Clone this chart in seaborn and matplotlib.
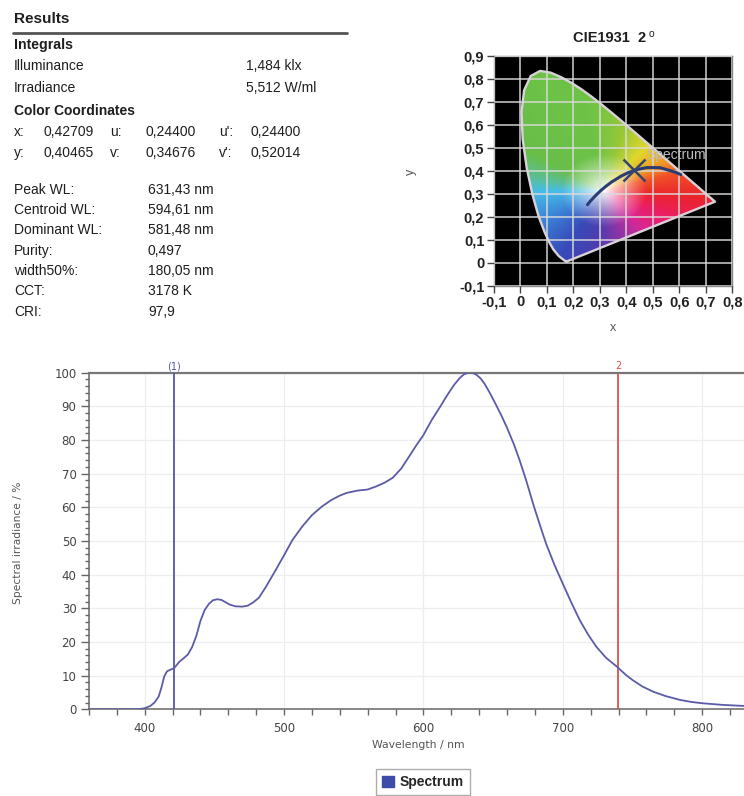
import numpy as np
import pandas as pd
import matplotlib
matplotlib.use("Agg")
import matplotlib.pyplot as plt
import seaborn as sns
from matplotlib.patches import Polygon, Patch
from matplotlib.lines import Line2D
from matplotlib.ticker import MultipleLocator

# ---------------- data ----------------
wavelength = [360, 380, 395, 400, 404, 407, 410, 412, 414, 416, 418, 421, 425, 428, 431, 434,
              437, 440, 443, 446, 449, 452, 455, 458, 461, 465, 470, 474, 478, 482, 487, 494,
              500, 506, 513, 520, 527, 534, 540, 545, 553, 560, 566, 572, 578, 584, 590, 595,
              600, 606, 612, 617, 622, 626, 629, 632, 635, 638, 641, 644, 648, 652, 656, 660, 665, 669,
              674, 679, 684, 688, 694, 700, 706, 712, 718, 724, 731, 739, 745, 750, 757, 765,
              774, 784, 792, 800, 815, 830]
irradiance = [0, 0, 0, 0.3, 1.0, 2.0, 3.8, 6.5, 9.8, 11.3, 11.7, 12.2, 14.2, 15.2, 16.3, 18.5,
              21.8, 26.3, 29.5, 31.3, 32.4, 32.7, 32.5, 31.8, 31.1, 30.6, 30.5, 30.8, 31.8, 33.2, 36.4, 41.4,
              45.8, 50.3, 54.3, 57.7, 60.2, 62.2, 63.5, 64.3, 65.0, 65.3, 66.2, 67.3, 68.8, 71.5, 75.3, 78.5,
              81.5, 86.0, 89.9, 93.3, 96.4, 98.4, 99.5, 100.0, 100.0, 99.4, 98.3, 96.6, 93.7, 90.5, 87.2, 83.6, 78.6, 74.0,
              67.6, 60.6, 54.2, 49.2, 42.9, 37.3, 31.8, 26.6, 22.3, 18.6, 15.3, 12.6, 10.3, 8.7, 6.8, 5.2,
              3.9, 2.8, 2.2, 1.8, 1.3, 1.0]
marker_wl = [420.7, 739.5]
marker_labels = ["(1)", "2"]

# CIE 1931 spectral locus (x, y)
locus_x = [0.1741, 0.1733, 0.1714, 0.1644, 0.1566, 0.1440, 0.1241, 0.1096, 0.0913, 0.0687,
           0.0454, 0.0235, 0.0082, 0.0039, 0.0139, 0.0389, 0.0743, 0.1142, 0.1547, 0.1929,
           0.2296, 0.2658, 0.3016, 0.3373, 0.3731, 0.4087, 0.4441, 0.4788, 0.5125, 0.5448,
           0.5752, 0.6029, 0.6270, 0.6658, 0.6915, 0.7079, 0.7190, 0.7260, 0.7300, 0.7334, 0.7347]
locus_y = [0.0050, 0.0048, 0.0051, 0.0109, 0.0177, 0.0297, 0.0578, 0.0868, 0.1327, 0.2007,
           0.2950, 0.4127, 0.5384, 0.6548, 0.7502, 0.8120, 0.8338, 0.8262, 0.8059, 0.7816,
           0.7543, 0.7243, 0.6923, 0.6589, 0.6245, 0.5896, 0.5547, 0.5202, 0.4866, 0.4544,
           0.4242, 0.3965, 0.3725, 0.3340, 0.3083, 0.2920, 0.2809, 0.2740, 0.2700, 0.2666, 0.2653]
# Planckian locus (x, y)
planck_x = [0.2530, 0.2637, 0.2807, 0.2952, 0.3064, 0.3221, 0.3451, 0.3805, 0.4053, 0.4369,
            0.4770, 0.5267, 0.5857, 0.6051]
planck_y = [0.2523, 0.2674, 0.2884, 0.3048, 0.3166, 0.3318, 0.3516, 0.3768, 0.3907, 0.4041,
            0.4137, 0.4133, 0.3931, 0.3833]
point_x = [0.42709]
point_y = [0.40465]

# hue palette of the diagram fill (angle around white point in degrees -> colour)
hue_angle = [-180, -150, -120, -95, -70, -50, -25, -5, 15, 28, 50, 75, 100, 150, 168, 180]
hue_color = ["#46bee6", "#3c82d7", "#374bb9", "#503caf", "#9632a5", "#d72896", "#eb1e64",
             "#eb232d", "#f05028", "#f09628", "#e1d72d", "#96c837", "#6ec346", "#69be4b",
             "#5abe96", "#46bee6"]

cie_ticks_x = [-0.1, 0, 0.1, 0.2, 0.3, 0.4, 0.5, 0.6, 0.7, 0.8]
cie_xlabels = ["-0,1", "0", "0,1", "0,2", "0,3", "0,4", "0,5", "0,6", "0,7", "0,8"]
cie_ticks_y = [-0.1, 0, 0.1, 0.2, 0.3, 0.4, 0.5, 0.6, 0.7, 0.8, 0.9]
cie_ylabels = ["-0,1", "0", "0,1", "0,2", "0,3", "0,4", "0,5", "0,6", "0,7", "0,8", "0,9"]

integral_labels = ["Illuminance", "Irradiance"]
integral_values = ["1,484 klx", "5,512 W/ml"]
coord_row1 = ["x:", "0,42709", "u:", "0,24400", "u':", "0,24400"]
coord_row2 = ["y:", "0,40465", "v:", "0,34676", "v':", "0,52014"]
result_labels = ["Peak WL:", "Centroid WL:", "Dominant WL:", "Purity:", "width50%:", "CCT:", "CRI:"]
result_values = ["631,43 nm", "594,61 nm", "581,48 nm", "0,497", "180,05 nm", "3178 K", "97,9"]

# ---------------- figure ----------------
sns.set_theme(style="white")
plt.rcParams["font.family"] = ["Liberation Sans", "DejaVu Sans"]

W, H = 744, 796
fig = plt.figure(figsize=(W / 100, H / 100), dpi=100)
fig.patch.set_facecolor("white")


def fx(x):
    return x / W


def fy(y):
    return 1 - y / H


TXT = "#1e1e1e"
# ---- Results text block ----
fig.text(fx(14), fy(19), "Results", fontsize=11, fontweight="bold", color=TXT, va="center")
fig.add_artist(Line2D([fx(13), fx(347)], [fy(33), fy(33)], color="#555555", lw=2))
fig.text(fx(14), fy(45), "Integrals", fontsize=10.2, fontweight="bold", color=TXT, va="center")
for i, (lab, val) in enumerate(zip(integral_labels, integral_values)):
    yy = 66.5 + i * 21
    fig.text(fx(14), fy(yy), lab, fontsize=10, color=TXT, va="center")
    fig.text(fx(246), fy(yy), val, fontsize=10, color=TXT, va="center")
fig.text(fx(14), fy(111), "Color Coordinates", fontsize=10, fontweight="bold", color=TXT, va="center")
col_x = [14, 43, 110, 145, 219, 251]
for row, yy in ((coord_row1, 132), (coord_row2, 153)):
    for cx, t in zip(col_x, row):
        fig.text(fx(cx), fy(yy), t, fontsize=10, color=TXT, va="center")
for i, (lab, val) in enumerate(zip(result_labels, result_values)):
    yy = 189.5 + i * 20.4
    fig.text(fx(14), fy(yy), lab, fontsize=10, color=TXT, va="center")
    fig.text(fx(148), fy(yy), val, fontsize=10, color=TXT, va="center")

# ---- CIE diagram ----
cax = fig.add_axes([fx(494), fy(285.7), fx(732.3) - fx(494), fy(55.7) - fy(285.7)])
cax.set_facecolor("black")
cax.set_xlim(-0.1, 0.8)
cax.set_ylim(-0.1, 0.9)

gx, gy = np.meshgrid(np.linspace(-0.1, 0.8, 450), np.linspace(-0.1, 0.9, 500))
wx, wy = 0.315, 0.315
theta = np.degrees(np.arctan2(gy - wy, gx - wx))
rad = np.hypot(gx - wx, gy - wy)
pal = np.array([[int(c[i:i + 2], 16) / 255 for i in (1, 3, 5)] for c in hue_color])
base = np.stack([np.interp(theta, hue_angle, pal[:, k]) for k in range(3)], axis=-1)
sat = np.clip(rad / 0.16, 0, 1) ** 0.85
rgb = 1 - sat[..., None] * (1 - base)
im = cax.imshow(rgb, extent=[-0.1, 0.8, -0.1, 0.9], origin="lower", aspect="auto", zorder=1,
                interpolation="bilinear")
poly = Polygon(np.column_stack([locus_x, locus_y]), closed=True, transform=cax.transData)
im.set_clip_path(poly)

cax.set_axisbelow(False)
cax.grid(True, color="#dcdcdc", lw=1.3, alpha=0.8)
cax.plot(locus_x + [locus_x[0]], locus_y + [locus_y[0]], color="#d9d2d9", lw=1.7, zorder=4)
sns.lineplot(x=planck_x, y=planck_y, ax=cax, color="#2c3c72", lw=2.2, sort=False, zorder=5)
cax.plot(point_x, point_y, marker="x", ms=16, mew=1.8, color="#34446e", ls="none", zorder=6)
cax.text(0.474, 0.468, "Spectrum", fontsize=10, color="#bdbdbd", ha="left", va="center", zorder=7)

cax.set_xticks(cie_ticks_x)
cax.set_xticklabels(cie_xlabels, fontsize=10.5, fontweight="bold", color="#222222")
cax.set_yticks(cie_ticks_y)
cax.set_yticklabels(cie_ylabels, fontsize=10.5, fontweight="bold", color="#222222")
cax.tick_params(axis="both", which="major", direction="out", length=5, width=1, color="#444444",
                pad=2, bottom=True, left=True)
for s in cax.spines.values():
    s.set_color("#888888")
    s.set_linewidth(1)
cax.set_xlabel("x", fontsize=9, color="#555555")
cax.xaxis.set_label_coords(0.5, (285.7 - 322) / 230)
cax.set_ylabel("y", fontsize=9, color="#555555")
cax.yaxis.set_label_coords((417 - 494) / 238.3, 0.494)

fig.text(fx(573), fy(38.5), "CIE1931  2", fontsize=10.5, fontweight="bold", color=TXT,
         ha="left", va="center")
fig.text(fx(648.5), fy(34), "o", fontsize=7.5, color=TXT, ha="left", va="center")

# ---- Spectrum plot ----
ax = fig.add_axes([fx(89), fy(709.3), fx(744) - fx(89), fy(372.7) - fy(709.3)])
df = pd.DataFrame({"wavelength": wavelength, "irradiance": irradiance})
sns.lineplot(data=df, x="wavelength", y="irradiance", ax=ax, color="#5b5ba8", lw=1.3, zorder=4)
ax.set_xlim(360, 830)
ax.set_ylim(0, 100)
marker_colors = ["#5555a8", "#d9534f"]
for wl, lab, c in zip(marker_wl, marker_labels, marker_colors):
    ax.axvline(wl, color=c, lw=1.3, zorder=3)
    ax.annotate(lab, xy=(wl, 100), xytext=(0, 1), textcoords="offset points", ha="center",
                va="bottom", fontsize=7, color=c, family="DejaVu Sans")

ax.xaxis.set_major_locator(MultipleLocator(100))
ax.xaxis.set_minor_locator(MultipleLocator(20))
ax.yaxis.set_major_locator(MultipleLocator(10))
ax.yaxis.set_minor_locator(MultipleLocator(2))
ax.grid(True, which="major", color="#ededed", lw=0.9)
ax.set_axisbelow(True)
ax.tick_params(axis="x", which="both", direction="out", length=4, width=1, color="#666666",
               bottom=True, labelsize=8.5, labelcolor="#444444", pad=5)
ax.tick_params(axis="y", which="major", direction="out", length=6, width=1, color="#666666",
               left=True, labelsize=8.5, labelcolor="#444444", pad=3)
ax.tick_params(axis="y", which="minor", direction="out", length=3, width=1, color="#666666", left=True)
for lbl in ax.get_xticklabels() + ax.get_yticklabels():
    lbl.set_family("DejaVu Sans")
ax.spines["right"].set_visible(False)
ax.spines["left"].set_color("#666666")
ax.spines["bottom"].set_color("#666666")
ax.spines["top"].set_color("#777777")
ax.spines["top"].set_linewidth(1.6)
for s in ("left", "bottom"):
    ax.spines[s].set_linewidth(1.1)
ax.set_xlabel("Wavelength / nm", fontsize=7.8, color="#555555", family="DejaVu Sans")
ax.xaxis.set_label_coords((418 - 89) / 655, (709.3 - 740) / 336.6)
ax.set_ylabel("Spectral irradiance / %", fontsize=7.7, color="#555555", family="DejaVu Sans")
ax.yaxis.set_label_coords((23 - 89) / 655, 0.494)

fig.legend(handles=[Patch(facecolor="#3d4ca8", edgecolor="#3d4ca8", label="Spectrum")],
           loc="center", bbox_to_anchor=(fx(423), fy(782)), frameon=True, fancybox=False,
           edgecolor="#999999", prop={"weight": "bold", "size": 10, "family": "Liberation Sans"},
           handlelength=0.85, handleheight=0.85, handletextpad=0.4, borderpad=0.45,
           borderaxespad=0)

fig.savefig("out.png", dpi=100, facecolor="white")
